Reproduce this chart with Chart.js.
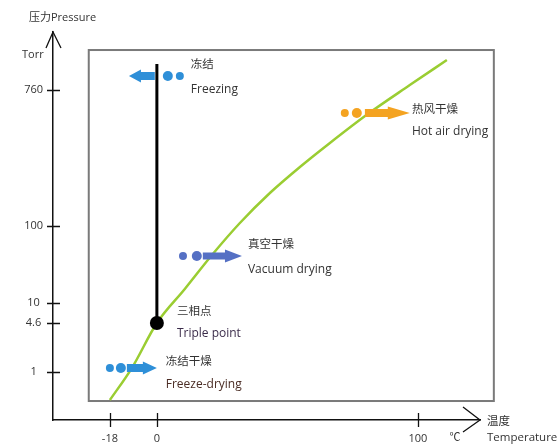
<!DOCTYPE html>
<html>
<head>
<meta charset="utf-8">
<script src="https://cdn.jsdelivr.net/npm/chart.js@4.4.1/dist/chart.umd.min.js"></script>
<style>
  html, body { margin: 0; padding: 0; background: #fff; }
  #wrap { width: 558px; height: 448px; }
</style>
</head>
<body>
<div id="wrap"><canvas id="myChart"></canvas></div>
<script>
// Axis ticks (temperature in °C, pressure in Torr)
var xTickValues = [-18, 0, 100];
var xTickLabels = ["-18", "0", "100"];
var yTickTorr = [1, 4.6, 10, 100, 760];
var yTickLabels = ["1", "4.6", "10", "100", "760"];

// Phase boundary (sublimation + vaporisation curve)
var curveTemp = [-18, -9.6, 0, 10.7, 21.1, 31.8, 43.3, 54.8, 66.3, 80.8, 96.9, 111.1];
var curveTorr = [0.418, 1.13, 4.6, 15.2, 42.0, 104.6, 163.6, 241, 345, 531, 818, 1189];

// Solid / liquid line down to the triple point
var meltTemp = [0, 0];
var meltTorr = [1120, 4.6];
var tripleTemp = [0];
var tripleTorr = [4.6];

// Drying processes
var procZh = ["冻结", "热风干燥", "真空干燥", "冻结干燥"];
var procEn = ["Freezing", "Hot air drying", "Vacuum drying", "Freeze-drying"];
var procTorr = [936, 539, 40.8, 1.13];
var procFrom = [-0.8, 79.7, 17.6, -11.5];
var procTo = [-10.7, 96.9, 32.6, 0];
var procDot1 = [4.2, 76.6, 15.3, -13.8];
var procDot2 = [8.8, 72.0, 10.0, -18.0];
var procTextTemp = [13.0, 97.7, 34.9, 3.4];

// Inner frame
var frameTemp = [-26.1, 129.1];
var frameTorr = [0.405, 1380];

// The pressure axis is schematic: spacing of the ticks along the axis
var yTickSpacing = [0, 0.71, 1, 2.116, 4.087];

// styles
var procColors = ["#2e8fd8", "#f4a321", "#5570c4", "#2e8fd8"];
var headLen = [12, 22, 17, 14];
var zhDy = [-11, -3, -11, -6];
var enDy = [14, 19, 14, 17];
var enColors = ["#333", "#333", "#333", "#4a2c24"];
var FONT = '"Open Sans", "Noto Sans CJK SC", sans-serif';

function level(p) {
  var L = Math.log10(p);
  var Ls = yTickTorr.map(function (v) { return Math.log10(v); });
  var i = 0;
  while (i < Ls.length - 2 && L > Ls[i + 1]) i++;
  return yTickSpacing[i] + (L - Ls[i]) / (Ls[i + 1] - Ls[i]) * (yTickSpacing[i + 1] - yTickSpacing[i]);
}

function pts(temps, torrs) {
  return temps.map(function (t, i) { return { x: t, y: level(torrs[i]) }; });
}

var dotPts = [], dotColors = [], dotRadius = [];
for (var i = 0; i < procZh.length; i++) {
  dotPts.push({ x: procDot1[i], y: level(procTorr[i]) });
  dotPts.push({ x: procDot2[i], y: level(procTorr[i]) });
  dotColors.push(procColors[i], procColors[i]);
  dotRadius.push(5, 4);
}

function arrow(c, x0, x1, yy, half, head, headHalf, color) {
  var dir = x1 > x0 ? 1 : -1;
  var hb = x1 - dir * head;
  c.fillStyle = color;
  c.beginPath();
  c.moveTo(x0, yy - half);
  c.lineTo(hb, yy - half);
  c.lineTo(hb, yy - headHalf);
  c.lineTo(x1, yy);
  c.lineTo(hb, yy + headHalf);
  c.lineTo(hb, yy + half);
  c.lineTo(x0, yy + half);
  c.closePath();
  c.fill();
}

var decor = {
  id: "decor",
  beforeDatasetsDraw: function (chart) {
    var c = chart.ctx, xs = chart.scales.x, ys = chart.scales.y;
    var l = xs.getPixelForValue(frameTemp[0]), r = xs.getPixelForValue(frameTemp[1]);
    var t = ys.getPixelForValue(level(frameTorr[1])), b = ys.getPixelForValue(level(frameTorr[0]));
    c.save();
    c.strokeStyle = "#7a7a7a";
    c.lineWidth = 2;
    c.strokeRect(l, t, r - l, b - t);
    c.restore();
  },
  afterDatasetsDraw: function (chart) {
    var c = chart.ctx, xs = chart.scales.x, ys = chart.scales.y;
    c.save();
    for (var i = 0; i < procZh.length; i++) {
      var yy = ys.getPixelForValue(level(procTorr[i]));
      arrow(c, xs.getPixelForValue(procFrom[i]), xs.getPixelForValue(procTo[i]), yy,
        i === 2 ? 3.5 : 4, headLen[i], 6.5, procColors[i]);
    }
    c.restore();
  },
  afterDraw: function (chart) {
    var c = chart.ctx, xs = chart.scales.x, ys = chart.scales.y, a = chart.chartArea;
    c.save();
    c.strokeStyle = "#111";
    c.lineWidth = 1.3;
    // tick marks crossing the axes
    c.beginPath();
    yTickTorr.forEach(function (p) {
      var y = Math.round(ys.getPixelForValue(level(p))) + 0.5;
      c.moveTo(a.left - 6, y); c.lineTo(a.left + 7, y);
    });
    xTickValues.forEach(function (v) {
      var x = Math.round(xs.getPixelForValue(v)) + 0.5;
      c.moveTo(x, a.bottom - 7); c.lineTo(x, a.bottom + 7);
    });
    c.stroke();
    // axis arrow heads
    c.beginPath();
    c.moveTo(a.left - 7, a.top + 16); c.lineTo(a.left, a.top); c.lineTo(a.left + 8, a.top + 16);
    c.moveTo(a.right - 17, a.bottom - 13); c.lineTo(a.right, a.bottom); c.lineTo(a.right - 17, a.bottom + 12);
    c.stroke();

    // axis titles
    c.fillStyle = "#333";
    c.textBaseline = "middle";
    c.textAlign = "left";
    c.font = "11px " + FONT;
    c.fillText("压力Pressure", a.left - 24, a.top - 14);
    c.fillText("Torr", a.left - 31, a.top + 23);
    c.font = "11.5px " + FONT;
    c.fillText("温度", a.right + 7, a.bottom + 2);
    c.fillText("Temperature", a.right + 7, a.bottom + 18);
    c.textAlign = "center";
    c.font = "11px " + FONT;
    c.fillText("℃", a.right - 25, a.bottom + 18);

    // process labels
    c.textAlign = "left";
    for (var i = 0; i < procZh.length; i++) {
      var x = xs.getPixelForValue(procTextTemp[i]);
      var yy = ys.getPixelForValue(level(procTorr[i]));
      c.fillStyle = "#333";
      c.font = "11.5px " + FONT;
      c.fillText(procZh[i], x, yy + zhDy[i]);
      c.fillStyle = enColors[i];
      c.font = "12px " + FONT;
      c.fillText(procEn[i], x, yy + enDy[i]);
    }
    // triple point label
    var tx = xs.getPixelForValue(tripleTemp[0]) + 20;
    var ty = ys.getPixelForValue(level(tripleTorr[0]));
    c.fillStyle = "#333";
    c.font = "11.5px " + FONT;
    c.fillText("三相点", tx, ty - 11);
    c.fillStyle = "#3b2c4a";
    c.font = "12px " + FONT;
    c.fillText("Triple point", tx, ty + 11);
    c.restore();
  }
};

var ctx = document.getElementById("myChart").getContext("2d");

var myChart = new Chart(ctx, {
  type: "scatter",
  data: {
    datasets: [
      { data: pts(tripleTemp, tripleTorr), pointRadius: 7, backgroundColor: "#000", borderWidth: 0 },
      { data: dotPts, pointRadius: dotRadius, backgroundColor: dotColors, borderWidth: 0 },
      { data: pts(meltTemp, meltTorr), showLine: true, borderColor: "#000", borderWidth: 3, pointRadius: 0 },
      { data: pts(curveTemp, curveTorr), showLine: true, borderColor: "#9acd32", borderWidth: 2.5,
        pointRadius: 0, cubicInterpolationMode: "monotone" }
    ]
  },
  options: {
    responsive: true,
    maintainAspectRatio: false,
    animation: false,
    layout: { padding: { top: 32, right: 78, left: 0, bottom: 0 } },
    plugins: { legend: { display: false }, tooltip: { enabled: false } },
    scales: {
      x: {
        type: "linear",
        min: -39.8,
        max: 123.8,
        afterBuildTicks: function (s) { s.ticks = xTickValues.map(function (v) { return { value: v }; }); },
        afterFit: function (s) { s.height = 28; },
        grid: { display: true, drawOnChartArea: false, tickLength: 7, color: "rgba(0,0,0,0)" },
        border: { display: true, color: "#111", width: 1.5 },
        ticks: {
          autoSkip: false, maxRotation: 0, padding: 5, color: "#333",
          font: { family: FONT, size: 11 },
          callback: function (v, i) { return xTickLabels[i]; }
        }
      },
      y: {
        type: "linear",
        min: -0.6957,
        max: 4.928,
        afterBuildTicks: function (s) { s.ticks = yTickSpacing.map(function (v) { return { value: v }; }); },
        afterFit: function (s) { s.width = 53; },
        grid: { display: true, drawOnChartArea: false, tickLength: 6, color: "rgba(0,0,0,0)" },
        border: { display: true, color: "#111", width: 1.5 },
        ticks: {
          autoSkip: false, padding: 4, crossAlign: "center", color: "#333",
          font: { family: FONT, size: 11 },
          callback: function (v, i) { return yTickLabels[i]; }
        }
      }
    }
  },
  plugins: [decor]
});
</script>
</body>
</html>
